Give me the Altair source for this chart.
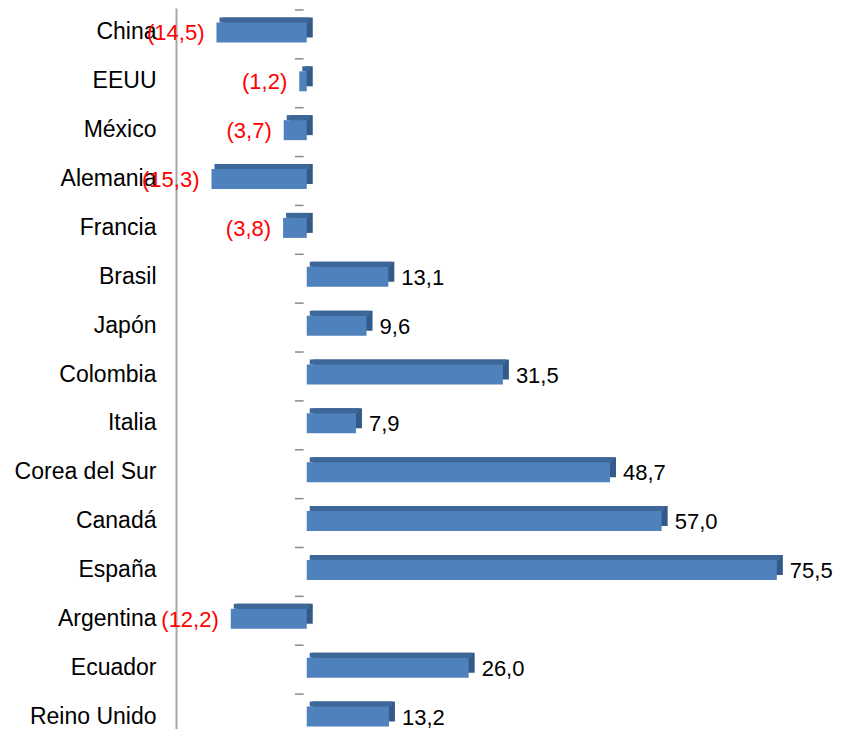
import altair as alt
import pandas as pd

countries = ["China", "EEUU", "México", "Alemania", "Francia", "Brasil", "Japón",
             "Colombia", "Italia", "Corea del Sur", "Canadá", "España", "Argentina",
             "Ecuador", "Reino Unido"]
values = [-14.5, -1.2, -3.7, -15.3, -3.8, 13.1, 9.6, 31.5, 7.9, 48.7, 57.0, 75.5,
          -12.2, 26.0, 13.2]


def fmt(v):
    s = f"{abs(v):.1f}".replace(".", ",")
    return f"({s})" if v < 0 else s


df = pd.DataFrame({
    "country": countries,
    "value": values,
    "label": [fmt(v) for v in values],
})

FONT = "Liberation Sans"
FRONT = "#4F81BD"
TOP = "#3D6699"
SIDE = "#335A88"
XSCALE = alt.Scale(domain=[-21, 85], nice=False, zero=False)

y = alt.Y(
    "country:N",
    sort=countries,
    scale=alt.Scale(paddingInner=0, paddingOuter=0),
    axis=alt.Axis(
        title=None, ticks=False, labelFontSize=23, labelFont=FONT,
        labelColor="black", labelPadding=20, domainColor="#A6A6A6",
        domainWidth=2, labelLimit=400,
    ),
)
x = alt.X("value:Q", scale=XSCALE, axis=None)
x2 = alt.X2(datum=0)

base = alt.Chart(df)

dashes = base.mark_rule(color="#8C8C8C", strokeWidth=1.5).encode(
    x=alt.X(datum=-1.9, scale=XSCALE, axis=None),
    x2=alt.X2(datum=-0.5),
    y=alt.Y("country:N", sort=countries, bandPosition=0.04),
)

side = base.mark_bar(color=SIDE, size=20, xOffset=6, x2Offset=6, yOffset=-5).encode(
    x=x, x2=x2, y=y
)
top = base.mark_bar(color=TOP, size=5, xOffset=3, x2Offset=3, yOffset=-12.5).encode(
    x=x, x2=x2, y=y
)
front = base.mark_bar(color=FRONT, size=20).encode(x=x, x2=x2, y=y)

pos_labels = base.transform_filter("datum.value >= 0").mark_text(
    align="left", baseline="middle", dx=13, dy=1, fontSize=22, font=FONT, color="black"
).encode(x=x, y=y, text="label:N")

neg_labels = base.transform_filter("datum.value < 0").mark_text(
    align="right", baseline="middle", dx=-12, dy=1, fontSize=22, font=FONT, color="#FF0000"
).encode(x=x, y=y, text="label:N")

chart = alt.layer(dashes, side, top, front, pos_labels, neg_labels).properties(
    width=660,
    height=733,
    autosize=alt.AutoSizeParams(type="none"),
    padding={"left": 168, "top": 0, "right": 0, "bottom": -12},
).configure_view(stroke=None)

chart.save("out.html", embed_options={"renderer": "svg", "actions": False})
